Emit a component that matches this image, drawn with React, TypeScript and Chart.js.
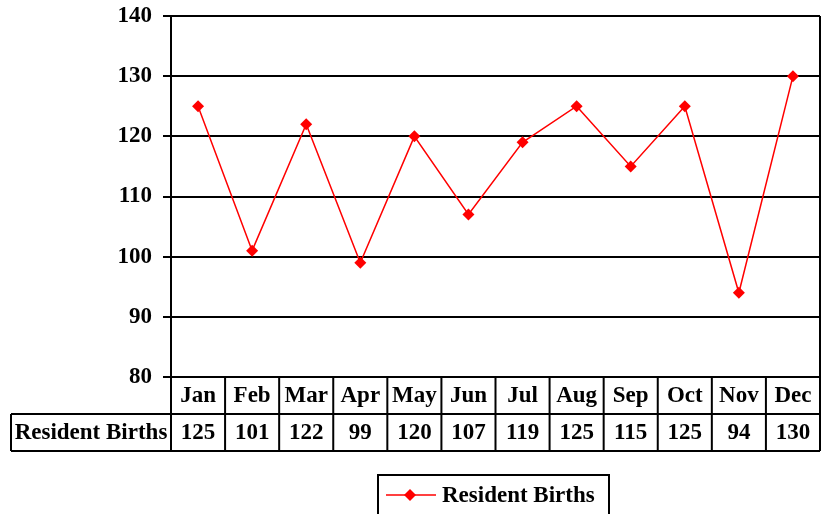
import { useEffect, useRef } from 'react';
import { Chart, registerables } from 'chart.js';

Chart.register(...registerables);

const months = ['Jan', 'Feb', 'Mar', 'Apr', 'May', 'Jun', 'Jul', 'Aug', 'Sep', 'Oct', 'Nov', 'Dec'];
const births = [125, 101, 122, 99, 120, 107, 119, 125, 115, 125, 94, 130];
const seriesLabel = 'Resident Births';
const yMin = 80;
const yMax = 140;
const yStep = 10;

const FONT = '"Liberation Serif", "Times New Roman", serif';
const RED = '#FF0000';
const FS = 23;

const tablePlugin = {
  id: 'dataTable',
  afterDraw(chart: any) {
    const { ctx, chartArea } = chart;
    const { left, right, top, bottom } = chartArea;
    const xs = chart.scales.x;
    const step = xs.getPixelForValue(1) - xs.getPixelForValue(0);
    const rowH = 37;
    const r1 = bottom;
    const r2 = bottom + rowH;
    const r3 = bottom + rowH * 2;
    const headerLeft = 11;
    ctx.save();
    ctx.strokeStyle = '#000';
    ctx.lineWidth = 2;
    ctx.beginPath();
    ctx.moveTo(right, top);
    ctx.lineTo(right, bottom);
    ctx.moveTo(left, r1);
    ctx.lineTo(right, r1);
    ctx.moveTo(headerLeft, r2);
    ctx.lineTo(right, r2);
    ctx.moveTo(headerLeft, r3);
    ctx.lineTo(right, r3);
    ctx.moveTo(headerLeft, r2);
    ctx.lineTo(headerLeft, r3);
    for (let i = 0; i <= months.length; i++) {
      const x = xs.getPixelForValue(0) - step / 2 + i * step;
      ctx.moveTo(x, r1);
      ctx.lineTo(x, r3);
    }
    ctx.stroke();

    ctx.fillStyle = '#000';
    ctx.font = `bold ${FS}px ${FONT}`;
    ctx.textAlign = 'center';
    ctx.textBaseline = 'middle';
    const ds = chart.data.datasets[0];
    months.forEach((m, i) => {
      const cx = xs.getPixelForValue(i);
      ctx.fillText(m, cx, (r1 + r2) / 2 + 1);
      ctx.fillText(String(ds.data[i]), cx, (r2 + r3) / 2 + 1);
    });
    ctx.fillText(ds.label, (headerLeft + left) / 2, (r2 + r3) / 2 + 1);

    const lx = 378;
    const lr = 609;
    const ly = 475;
    ctx.beginPath();
    ctx.moveTo(lx, chart.height + 5);
    ctx.lineTo(lx, ly);
    ctx.lineTo(lr, ly);
    ctx.lineTo(lr, chart.height + 5);
    ctx.stroke();
    const my = 495;
    ctx.strokeStyle = ds.borderColor;
    ctx.lineWidth = 1.5;
    ctx.beginPath();
    ctx.moveTo(386, my);
    ctx.lineTo(436, my);
    ctx.stroke();
    ctx.fillStyle = ds.pointBackgroundColor;
    ctx.beginPath();
    ctx.moveTo(410, my - 6);
    ctx.lineTo(416, my);
    ctx.lineTo(410, my + 6);
    ctx.lineTo(404, my);
    ctx.closePath();
    ctx.fill();
    ctx.fillStyle = '#000';
    ctx.textAlign = 'left';
    ctx.fillText(ds.label, 442, my + 1);
    ctx.restore();
  },
};

export default function App() {
  const ref = useRef<HTMLCanvasElement>(null);
  useEffect(() => {
    document.body.style.margin = '0';
    const chart = new Chart(ref.current!, {
      type: 'line',
      data: {
        labels: months,
        datasets: [
          {
            label: seriesLabel,
            data: births,
            borderColor: RED,
            backgroundColor: RED,
            pointBackgroundColor: RED,
            pointBorderColor: RED,
            borderWidth: 1.5,
            pointStyle: 'rectRot',
            pointRadius: 6,
            pointBorderWidth: 0,
            tension: 0,
          },
        ],
      },
      options: {
        animation: false,
        responsive: false,
        layout: { padding: { left: 0, top: 16, right: 5, bottom: 137 } },
        plugins: { legend: { display: false }, tooltip: { enabled: false } },
        scales: {
          x: { type: 'category', offset: true, display: false },
          y: {
            min: yMin,
            max: yMax,
            afterFit: (s: any) => {
              s.width = 171;
              s.paddingTop = 0;
              s.paddingBottom = 0;
            },
            ticks: {
              stepSize: yStep,
              padding: 11,
              color: '#000',
              font: { family: FONT, size: FS, weight: 'bold' },
            },
            grid: { color: '#000', lineWidth: 2, tickLength: 8, drawTicks: true },
            border: { color: '#000', width: 2 },
          },
        },
      },
      plugins: [tablePlugin],
    });
    return () => chart.destroy();
  }, []);
  return (
    <div style={{ width: 826, height: 514 }}>
      <canvas ref={ref} width={826} height={514} />
    </div>
  );
}
